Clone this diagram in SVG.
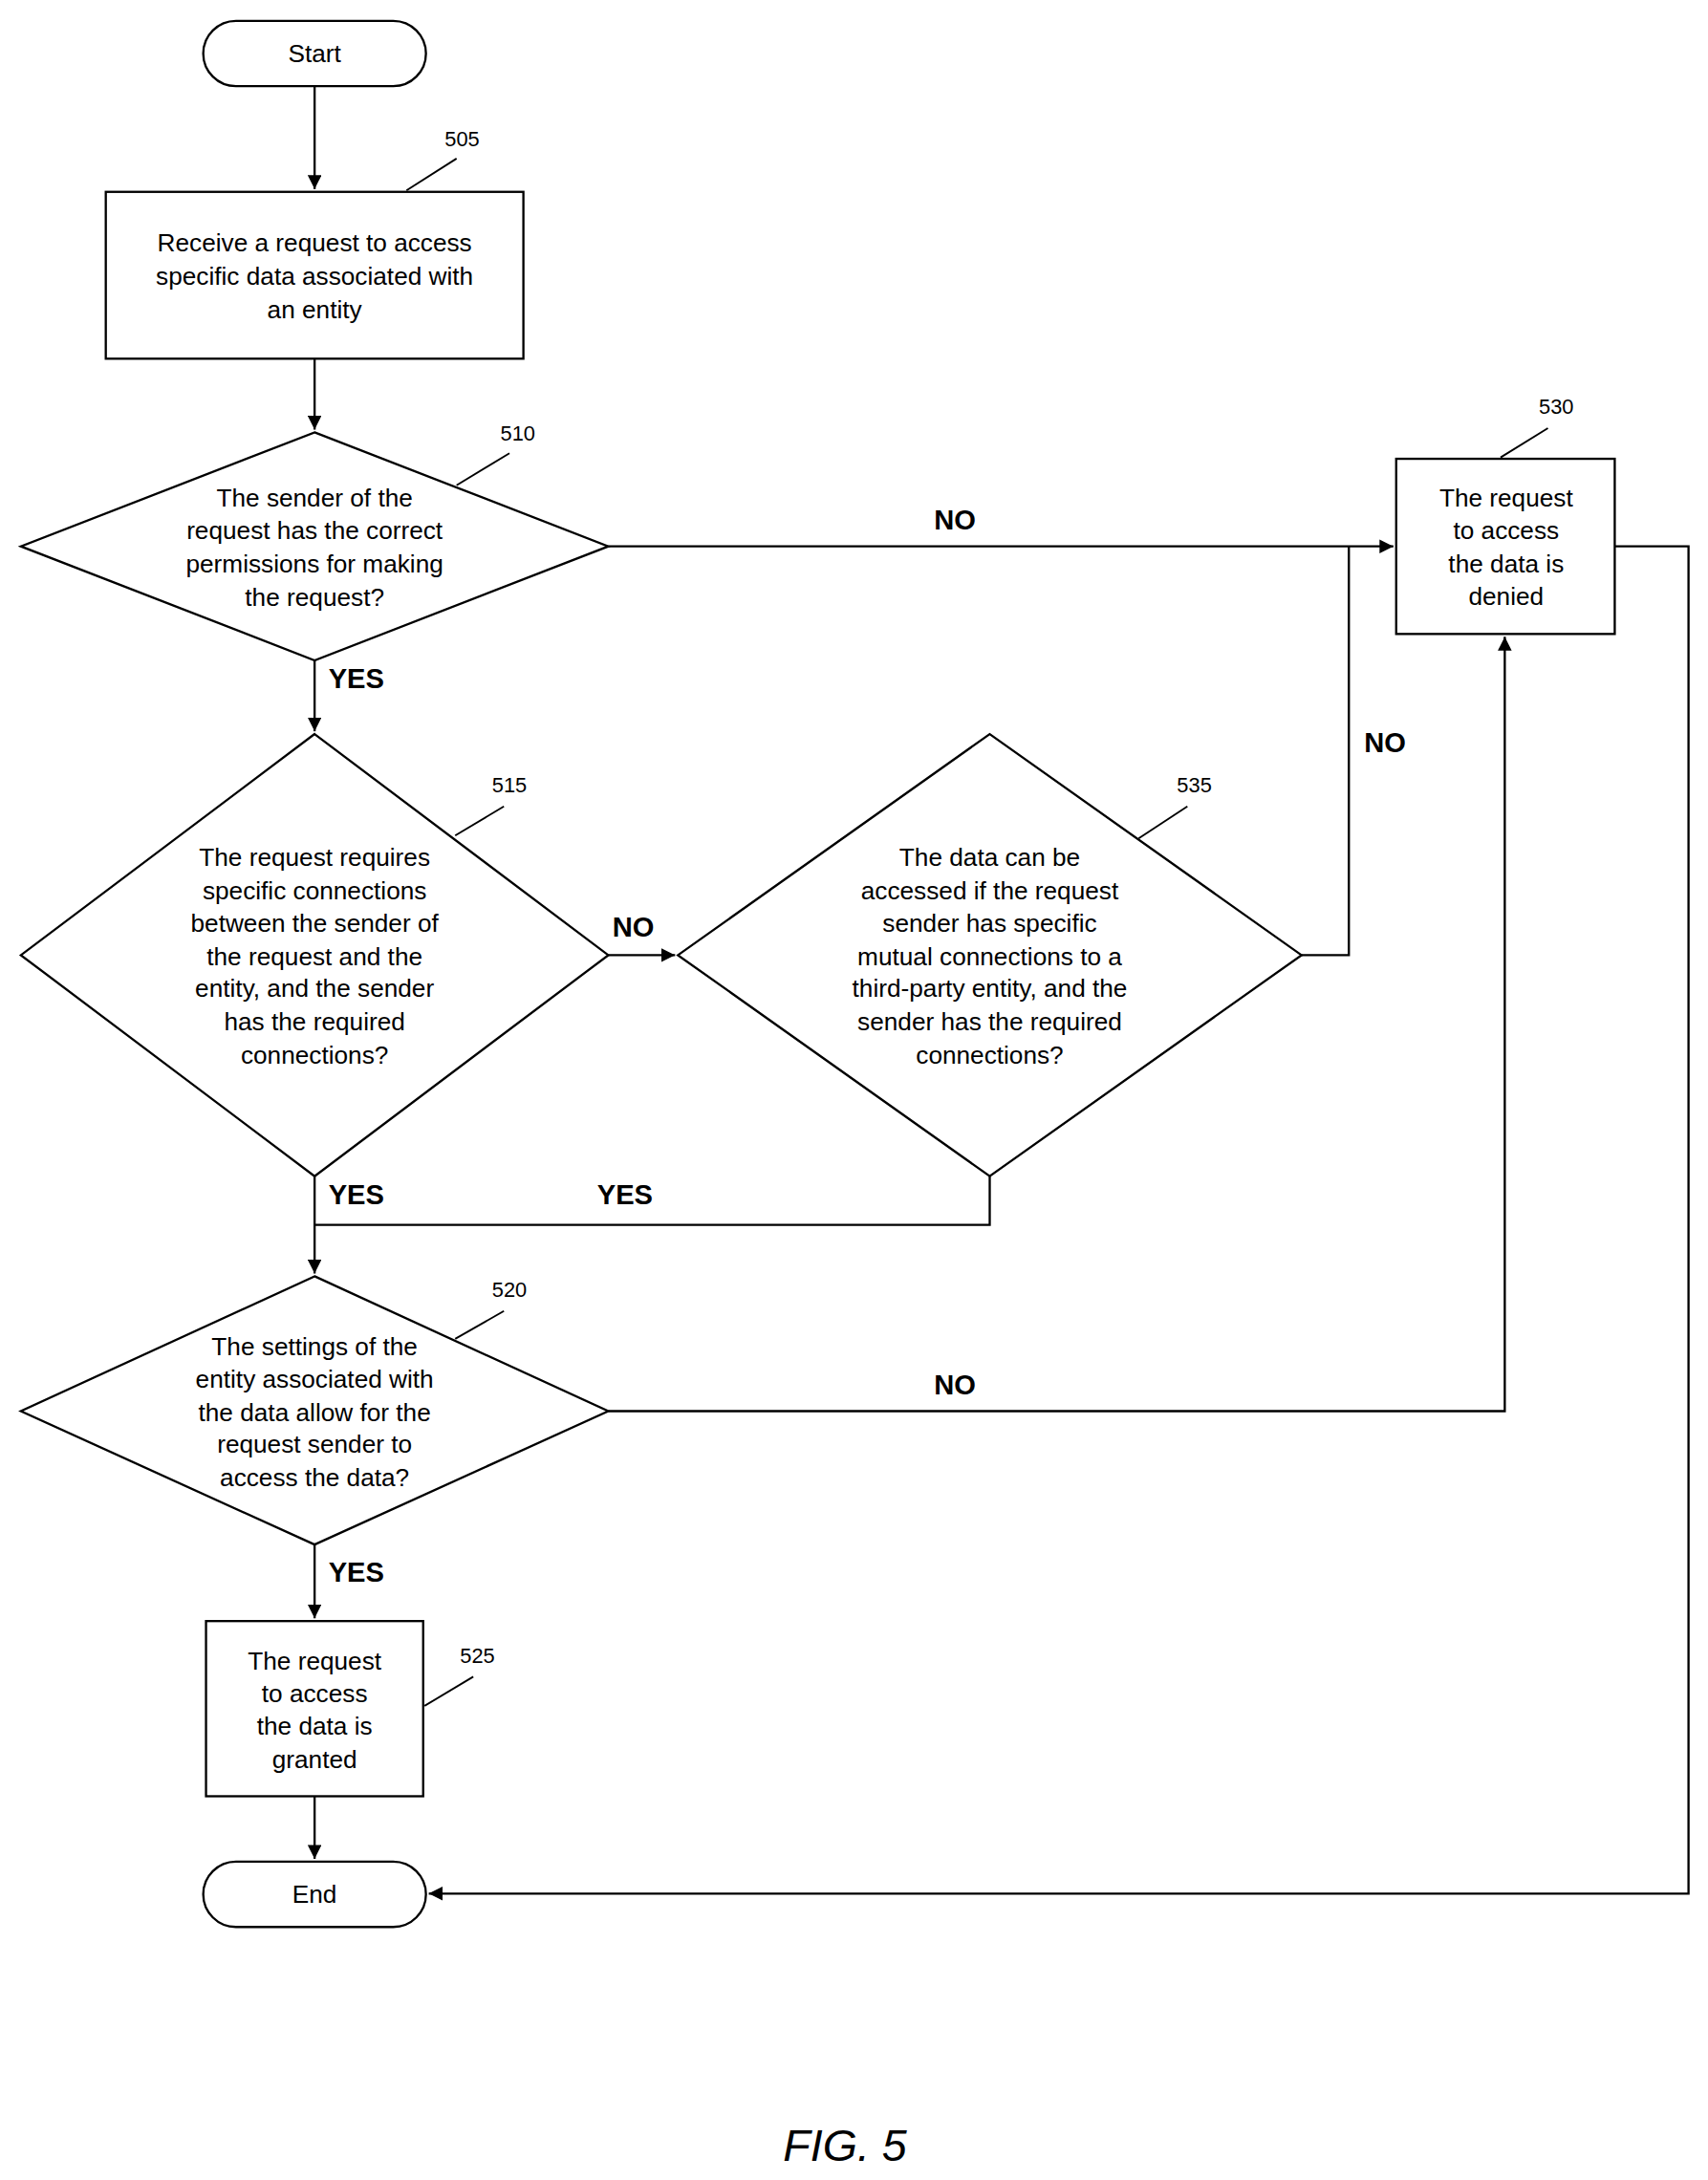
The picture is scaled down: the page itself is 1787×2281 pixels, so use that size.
<svg xmlns="http://www.w3.org/2000/svg" width="1787" height="2281" viewBox="0 0 1787 2281">
<style>
.s{fill:#fff;stroke:#000;stroke-width:1.6}
.t{font-family:"Liberation Sans",Arial,sans-serif;font-size:18px;text-anchor:middle;fill:#000}
.r{font-family:"Liberation Sans",Arial,sans-serif;font-size:15px;text-anchor:middle;fill:#000}
.b{font-family:"Liberation Sans",Arial,sans-serif;font-size:20px;font-weight:bold;text-anchor:middle;fill:#000}
.c{fill:none;stroke:#000;stroke-width:1.6}
.l{fill:none;stroke:#000;stroke-width:1.3}
</style>
<defs><marker id="a" viewBox="0 0 10 10" refX="10" refY="5" markerWidth="7" markerHeight="7" orient="auto" markerUnits="userSpaceOnUse"><path d="M0,0L10,5L0,10z"/></marker>
<marker id="a2" viewBox="0 0 10 10" refX="10" refY="5" markerWidth="10" markerHeight="10" orient="auto" markerUnits="userSpaceOnUse"><path d="M0,0L10,5L0,10z"/></marker></defs>
<rect width="1787" height="2281" fill="#fff"/>
<g transform="scale(1.4564,1.4547)">
<g id="connectors">
<path class="c" d="M226,62V136" marker-end="url(#a2)"/>
<path class="c" d="M226,258V309" marker-end="url(#a2)"/>
<path class="c" d="M437,393H1001" marker-end="url(#a2)"/>
<path class="c" d="M226,475V526" marker-end="url(#a2)"/>
<path class="c" d="M437,687H485" marker-end="url(#a2)"/>
<path class="c" d="M935,687H969V393"/>
<path class="c" d="M226,846V916" marker-end="url(#a2)"/>
<path class="c" d="M711,846V881H226"/>
<path class="c" d="M437,1015H1081V458" marker-end="url(#a2)"/>
<path class="c" d="M226,1111V1164" marker-end="url(#a2)"/>
<path class="c" d="M226,1292V1337" marker-end="url(#a2)"/>
<path class="c" d="M1160,393H1213V1362H308" marker-end="url(#a2)"/>
<text class="b" x="686" y="381">NO</text>
<text class="b" x="256" y="495">YES</text>
<text class="b" x="455" y="674">NO</text>
<text class="b" x="995" y="541">NO</text>
<text class="b" x="256" y="866">YES</text>
<text class="b" x="449" y="866">YES</text>
<text class="b" x="686" y="1003">NO</text>
<text class="b" x="256" y="1138">YES</text>
</g>
<g id="start"><rect class="s" x="146" y="15" width="160" height="47" rx="23.5"/><text class="t" x="226" y="45">Start</text></g>
<g id="n505"><rect class="s" x="76" y="138" width="300" height="120"/>
<text class="t" x="226" y="181">Receive a request to access</text><text class="t" x="226" y="205">specific data associated with</text><text class="t" x="226" y="229">an entity</text>
<path class="l" d="M292,137L328,114"/><text class="r" x="332" y="105">505</text></g>
<g id="n510"><polygon class="s" points="226,311 437,393 226,475 15,393"/>
<text class="t" x="226" y="364">The sender of the</text><text class="t" x="226" y="388">request has the correct</text><text class="t" x="226" y="412">permissions for making</text><text class="t" x="226" y="436">the request?</text>
<path class="l" d="M328,349L366,326"/><text class="r" x="372" y="317">510</text></g>
<g id="n530"><rect class="s" x="1003" y="330" width="157" height="126"/>
<text class="t" x="1082" y="364">The request</text><text class="t" x="1082" y="388">to access</text><text class="t" x="1082" y="412">the data is</text><text class="t" x="1082" y="435">denied</text>
<path class="l" d="M1078,329L1112,308"/><text class="r" x="1118" y="298">530</text></g>
<g id="n515"><polygon class="s" points="226,528 437,687 226,846 15,687"/>
<text class="t" x="226" y="623">The request requires</text><text class="t" x="226" y="647">specific connections</text><text class="t" x="226" y="670">between the sender of</text><text class="t" x="226" y="694">the request and the</text><text class="t" x="226" y="717">entity, and the sender</text><text class="t" x="226" y="741">has the required</text><text class="t" x="226" y="765">connections?</text>
<path class="l" d="M327,601L362,580"/><text class="r" x="366" y="570">515</text></g>
<g id="n535"><polygon class="s" points="711,528 935,687 711,846 487,687"/>
<text class="t" x="711" y="623">The data can be</text><text class="t" x="711" y="647">accessed if the request</text><text class="t" x="711" y="670">sender has specific</text><text class="t" x="711" y="694">mutual connections to a</text><text class="t" x="711" y="717">third-party entity, and the</text><text class="t" x="711" y="741">sender has the required</text><text class="t" x="711" y="765">connections?</text>
<path class="l" d="M818,603L853,580"/><text class="r" x="858" y="570">535</text></g>
<g id="n520"><polygon class="s" points="226,918 437,1015 226,1111 15,1015"/>
<text class="t" x="226" y="975">The settings of the</text><text class="t" x="226" y="998">entity associated with</text><text class="t" x="226" y="1022">the data allow for the</text><text class="t" x="226" y="1045">request sender to</text><text class="t" x="226" y="1069">access the data?</text>
<path class="l" d="M327,963L362,943"/><text class="r" x="366" y="933">520</text></g>
<g id="n525"><rect class="s" x="148" y="1166" width="156" height="126"/>
<text class="t" x="226" y="1201">The request</text><text class="t" x="226" y="1224">to access</text><text class="t" x="226" y="1248">the data is</text><text class="t" x="226" y="1272">granted</text>
<path class="l" d="M305,1227L340,1206"/><text class="r" x="343" y="1196">525</text></g>
<g id="end"><rect class="s" x="146" y="1339" width="160" height="47" rx="23.5"/><text class="t" x="226" y="1369">End</text></g>
<text x="607" y="1554" style="font-family:'Liberation Sans',Arial,sans-serif;font-size:32px;font-style:italic;text-anchor:middle">FIG. 5</text>
</g>
</svg>
